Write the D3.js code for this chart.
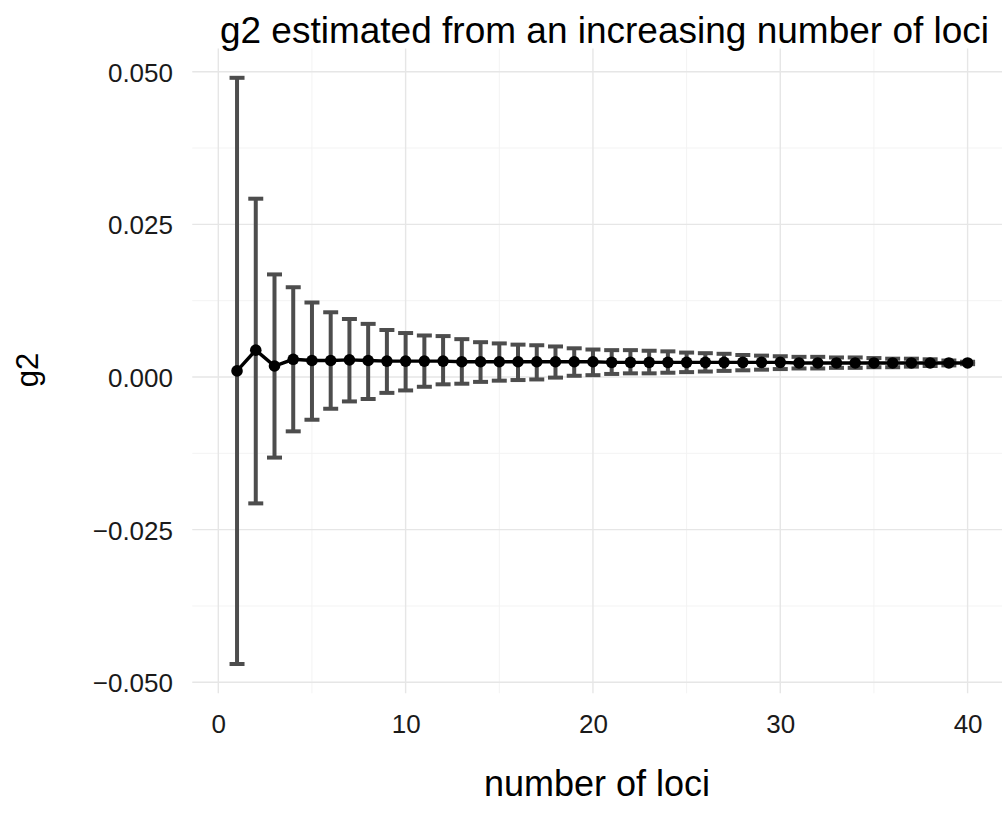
<!DOCTYPE html>
<html>
<head>
<meta charset="utf-8">
<script src="https://cdn.jsdelivr.net/npm/d3@7"></script>
<style>
  html, body { margin: 0; padding: 0; background: #fff; }
  svg { display: block; font-family: "Liberation Sans", Arial, sans-serif; }
</style>
</head>
<body>
<svg id="chart" width="1002" height="814"></svg>
<script>
// ---- data ----
const loci = d3.range(1, 41);
const g2Mean = [
  0.0010, 0.0044, 0.0018, 0.0029, 0.0027, 0.0027, 0.0028, 0.0027, 0.0026, 0.0026,
  0.0026, 0.0026, 0.0025, 0.0025, 0.0025, 0.0025, 0.0025, 0.0025, 0.0025, 0.0025,
  0.0024, 0.0024, 0.0024, 0.0024, 0.0024, 0.0024, 0.0024, 0.0024, 0.0024, 0.0024,
  0.0023, 0.0023, 0.0023, 0.0023, 0.0023, 0.0023, 0.0023, 0.0023, 0.0023, 0.0023
];
const g2Lower = [
  -0.0470, -0.0207, -0.0132, -0.0089, -0.0070, -0.0052, -0.0040, -0.0036, -0.0026, -0.0022,
  -0.0016, -0.0012, -0.0011, -0.0008, -0.0006, -0.0005, -0.0004, -0.0001, 0.0002, 0.0003,
  0.0005, 0.0006, 0.0006, 0.0007, 0.0008, 0.0009, 0.0010, 0.0011, 0.0012, 0.0013,
  0.0014, 0.0014, 0.0015, 0.0015, 0.0016, 0.0016, 0.0017, 0.0018, 0.0019, 0.0021
];
const g2Upper = [
  0.0490, 0.0292, 0.0168, 0.0147, 0.0122, 0.0106, 0.0095, 0.0087, 0.0077, 0.0072,
  0.0068, 0.0067, 0.0062, 0.0057, 0.0055, 0.0053, 0.0052, 0.0050, 0.0047, 0.0045,
  0.0044, 0.0044, 0.0043, 0.0042, 0.0040, 0.0039, 0.0038, 0.0036, 0.0035, 0.0034,
  0.0033, 0.0033, 0.0032, 0.0032, 0.0031, 0.0030, 0.0030, 0.0029, 0.0027, 0.0025
];
const xTicks = [0, 10, 20, 30, 40];
const xMinor = [5, 15, 25, 35];
const yTicks = [-0.050, -0.025, 0.000, 0.025, 0.050];
const yMinor = [-0.0375, -0.0125, 0.0125, 0.0375];
const titleText = "g2 estimated from an increasing number of loci";
const xLabel = "number of loci";
const yLabel = "g2";

// ---- layout ----
const svg = d3.select("#chart");
const capW = 0.8;
const xPad = (40 + capW / 2 - (1 - capW / 2)) * 0.05;
const xDom = [1 - capW / 2 - xPad, 40 + capW / 2 + xPad];
const x = d3.scaleLinear().domain([0, 40]).range([218.3, 967.6]);
const yLo = d3.min(g2Lower), yHi = d3.max(g2Upper);
const yPad = (yHi - yLo) * 0.05;
const y = d3.scaleLinear().domain([0, 0.05]).range([377, 71.7]);
const px0 = x(xDom[0]), px1 = x(xDom[1]);
const py0 = y(yHi + yPad), py1 = y(yLo - yPad);

const fmt = v => {
  const s = d3.format(".3f")(Math.abs(v));
  return (v < 0 ? "\u2212" : "") + s;
};

// grid
const grid = svg.append("g");
grid.selectAll(".ymin").data(yMinor).join("line")
  .attr("x1", px0).attr("x2", px1).attr("y1", d => y(d)).attr("y2", d => y(d))
  .attr("stroke", "#f3f3f3").attr("stroke-width", 1);
grid.selectAll(".xmin").data(xMinor).join("line")
  .attr("y1", py0).attr("y2", py1).attr("x1", d => x(d)).attr("x2", d => x(d))
  .attr("stroke", "#f3f3f3").attr("stroke-width", 1);
grid.selectAll(".ymaj").data(yTicks).join("line")
  .attr("x1", px0).attr("x2", px1).attr("y1", d => y(d)).attr("y2", d => y(d))
  .attr("stroke", "#e6e6e6").attr("stroke-width", 1.4);
grid.selectAll(".xmaj").data(xTicks).join("line")
  .attr("y1", py0).attr("y2", py1).attr("x1", d => x(d)).attr("x2", d => x(d))
  .attr("stroke", "#e6e6e6").attr("stroke-width", 1.4);

// axes labels (tick text)
const yAxis = d3.axisLeft(y).tickValues(yTicks).tickFormat(fmt).tickSize(0).tickPadding(0);
const gy = svg.append("g").attr("transform", `translate(173,0)`).call(yAxis);
gy.select(".domain").remove();
gy.selectAll("text").attr("font-size", 26).attr("fill", "#1a1a1a")
  .attr("font-family", "Liberation Sans, Arial, sans-serif").attr("dy", "0.36em").attr("x", 0);

const xAxis = d3.axisBottom(x).tickValues(xTicks).tickFormat(d3.format("d")).tickSize(0).tickPadding(0);
const gx = svg.append("g").attr("transform", `translate(0,714)`).call(xAxis);
gx.select(".domain").remove();
gx.selectAll("text").attr("font-size", 26).attr("fill", "#1a1a1a")
  .attr("font-family", "Liberation Sans, Arial, sans-serif").attr("dy", "0.72em").attr("y", 0);

// error bars
const data = loci.map((l, i) => ({ l, m: g2Mean[i], lo: g2Lower[i], hi: g2Upper[i] }));
const eb = svg.append("g").attr("stroke", "#4d4d4d").attr("stroke-width", 4).attr("fill", "none");
eb.selectAll(".v").data(data).join("line")
  .attr("x1", d => x(d.l)).attr("x2", d => x(d.l))
  .attr("y1", d => y(d.lo)).attr("y2", d => y(d.hi));
eb.selectAll(".t").data(data).join("line")
  .attr("x1", d => x(d.l - capW / 2)).attr("x2", d => x(d.l + capW / 2))
  .attr("y1", d => y(d.hi)).attr("y2", d => y(d.hi));
eb.selectAll(".b").data(data).join("line")
  .attr("x1", d => x(d.l - capW / 2)).attr("x2", d => x(d.l + capW / 2))
  .attr("y1", d => y(d.lo)).attr("y2", d => y(d.lo));

// line + points
svg.append("path").datum(data)
  .attr("d", d3.line().x(d => x(d.l)).y(d => y(d.m)))
  .attr("fill", "none").attr("stroke", "#000").attr("stroke-width", 3.4);
svg.append("g").selectAll("circle").data(data).join("circle")
  .attr("cx", d => x(d.l)).attr("cy", d => y(d.m)).attr("r", 5.8).attr("fill", "#000");

// titles
svg.append("text").attr("x", 604.5).attr("y", 43).attr("text-anchor", "middle")
  .attr("font-size", 37).attr("fill", "#000").text(titleText);
svg.append("text").attr("x", 597).attr("y", 796).attr("text-anchor", "middle")
  .attr("font-size", 36).attr("fill", "#000").text(xLabel);
svg.append("text").attr("transform", "translate(38,370) rotate(-90)").attr("text-anchor", "middle")
  .attr("font-size", 31).attr("fill", "#000").text(yLabel);
</script>
</body>
</html>
